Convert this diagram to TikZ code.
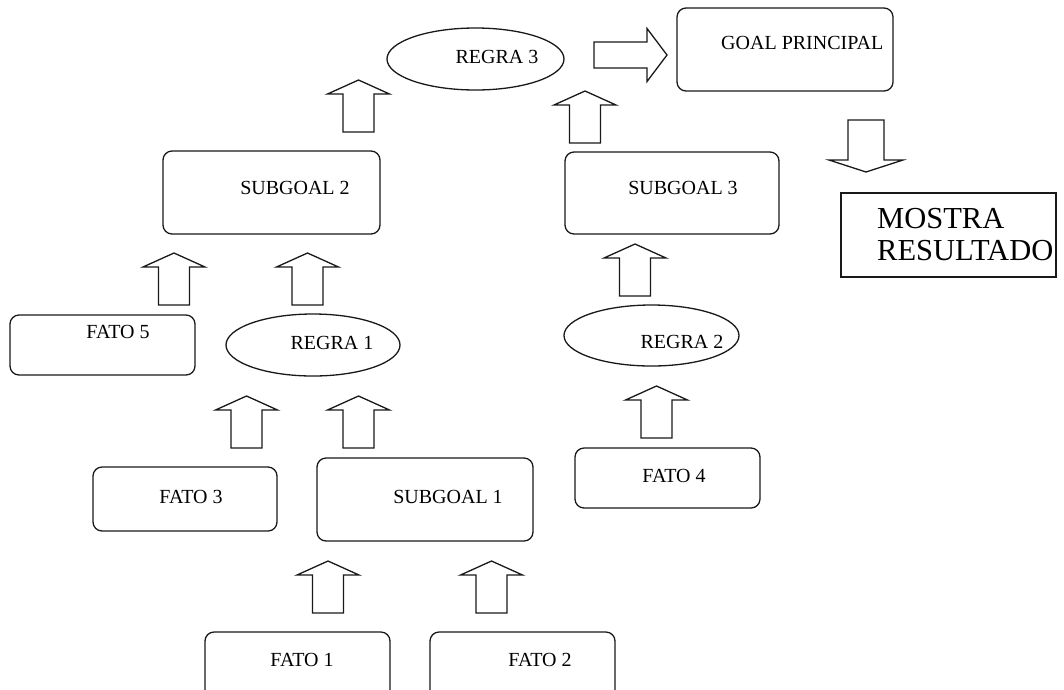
\documentclass[tikz,border=0pt]{standalone}
\usepackage{fontspec}
\setmainfont{Liberation Serif}
\usetikzlibrary{shapes.geometric}

\tikzset{
  outline/.style={draw=black!90, line width=1.3pt},
  roundbox/.style={outline, rounded corners=9pt, inner sep=0pt},
  plainbox/.style={outline, inner sep=0pt},
  rulebox/.style={outline, ellipse, inner sep=0pt},
  lbl/.style={inner sep=0pt, font=\fontsize{20}{24}\selectfont},
  biglbl/.style={inner sep=0pt, align=left, font=\fontsize{30.5}{32}\selectfont},
  % hollow block arrow pointing along +x from its tail centre:
  % #1 length, #2 head length, #3 head width, #4 shaft width
  pics/blockarrow/.style n args={4}{code={
    \draw[outline, line join=miter]
      (0,-#4/2) -- (#1-#2,-#4/2) -- (#1-#2,-#3/2) -- (#1,0)
      -- (#1-#2,#3/2) -- (#1-#2,#4/2) -- (0,#4/2) -- cycle;
  }},
  pics/uparrow/.style={code={\pic[rotate=90]{blockarrow={52}{14}{62}{31}};}}
}

\begin{document}
\begin{tikzpicture}[x=1pt, y=-1pt]
  \fill[white] (0,0) rectangle (1064,689);
  \clip (0,0) rectangle (1064,689);

  % ---- goal and result ----
  \node[roundbox, minimum width=216pt, minimum height=83pt] (goal) at (785,49.5) {};
  \node[lbl, anchor=west] (goal-t) at (721,43) {GOAL PRINCIPAL};
  \node[plainbox, minimum width=215pt, minimum height=84pt] (res) at (948.5,235) {};
  % base anchor sits on the last line's baseline
  \node[biglbl, anchor=base west] (res-t) at (877,260) {MOSTRA\\RESULTADO};

  % ---- rules ----
  \node[rulebox, minimum width=177pt, minimum height=62pt] (r3) at (475.5,59) {};
  \node[lbl] (r3-t) at (497,57) {REGRA 3};
  \node[rulebox, minimum width=174pt, minimum height=62pt] (r1) at (313,345) {};
  \node[lbl] (r1-t) at (332,343) {REGRA 1};
  \node[rulebox, minimum width=175pt, minimum height=61pt] (r2) at (651.5,335.5) {};
  \node[lbl] (r2-t) at (682,342) {REGRA 2};

  % ---- subgoals ----
  \node[roundbox, minimum width=217pt, minimum height=83pt] (sg2) at (271.5,192.5) {};
  \node[lbl] (sg2-t) at (295,188) {SUBGOAL 2};
  \node[roundbox, minimum width=214pt, minimum height=82pt] (sg3) at (672,193) {};
  \node[lbl] (sg3-t) at (683,188) {SUBGOAL 3};
  \node[roundbox, minimum width=216pt, minimum height=83pt] (sg1) at (425,499.5) {};
  \node[lbl] (sg1-t) at (448,497) {SUBGOAL 1};

  % ---- facts ----
  \node[roundbox, minimum width=185pt, minimum height=60pt] (f5) at (102.5,345) {};
  \node[lbl] (f5-t) at (118,332) {FATO 5};
  \node[roundbox, minimum width=184pt, minimum height=64pt] (f3) at (185,499) {};
  \node[lbl] (f3-t) at (191,497) {FATO 3};
  \node[roundbox, minimum width=185pt, minimum height=60pt] (f4) at (667.5,478) {};
  \node[lbl] (f4-t) at (674,476) {FATO 4};
  \node[roundbox, minimum width=185pt, minimum height=90pt] (f1) at (297.5,677) {};
  \node[lbl] (f1-t) at (302,660) {FATO 1};
  \node[roundbox, minimum width=185pt, minimum height=90pt] (f2) at (522.5,677) {};
  \node[lbl] (f2-t) at (540,660) {FATO 2};

  % ---- block arrows (tail centre positions) ----
  \pic at (358.5,132) {uparrow};   % subgoal 2 -> regra 3
  \pic at (585,143)   {uparrow};   % subgoal 3 -> regra 3
  \pic at (635,296)   {uparrow};   % regra 2 -> subgoal 3
  \pic at (656.5,438) {uparrow};   % fato 4 -> regra 2
  \pic at (174,305)   {uparrow};   % fato 5 -> subgoal 2
  \pic at (307.5,305) {uparrow};   % regra 1 -> subgoal 2
  \pic at (246.5,448) {uparrow};   % fato 3 -> regra 1
  \pic at (358.5,448) {uparrow};   % subgoal 1 -> regra 1
  \pic at (328,613)   {uparrow};   % fato 1 -> subgoal 1
  \pic at (491.5,613) {uparrow};   % fato 2 -> subgoal 1
  \pic at (594,55) {blockarrow={73}{20}{53}{26}};               % regra 3 -> goal
  \pic[rotate=-90] at (866,120) {blockarrow={52}{12}{74}{36}};  % goal -> resultado
\end{tikzpicture}
\end{document}
